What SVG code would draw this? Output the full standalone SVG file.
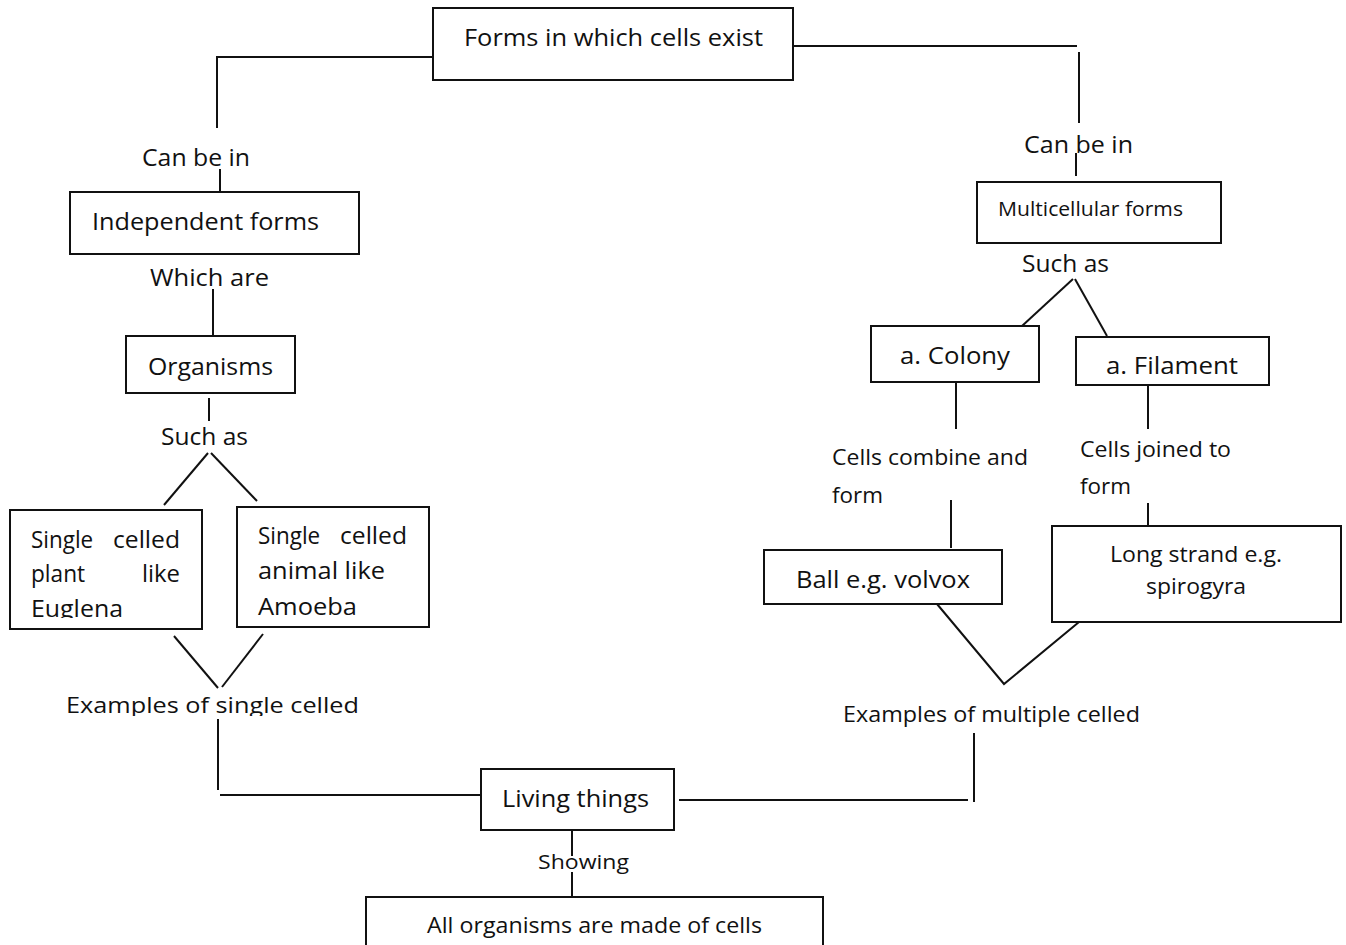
<svg xmlns="http://www.w3.org/2000/svg" width="1346" height="945" viewBox="0 0 1346 945">
<style>
  .box { fill: #ffffff; stroke: #111111; stroke-width: 2; }
  .c line, .c polyline { stroke: #111111; stroke-width: 2; fill: none; }
  text { font-family: "Open Sans", "Liberation Sans", sans-serif; fill: #111111; }
  .t24 { font-size: 24px; }
  .t22 { font-size: 22px; }
  .t20 { font-size: 20px; }
</style>
<defs>
  <clipPath id="clipEug"><rect x="0" y="500" width="230" height="118"/></clipPath>
  <clipPath id="clipEx1"><rect x="0" y="680" width="450" height="36"/></clipPath>
  <clipPath id="clipAll"><rect x="360" y="900" width="480" height="42"/></clipPath>
</defs>
<rect width="1346" height="945" fill="#ffffff"/>

<g id="connectors" class="c">
  <polyline points="433,57 217,57 217,128"/>
  <line x1="220" y1="169" x2="220" y2="192"/>
  <line x1="213" y1="289" x2="213" y2="336"/>
  <line x1="209" y1="398" x2="209" y2="421"/>
  <line x1="208" y1="453" x2="164" y2="505"/>
  <line x1="211" y1="453" x2="257" y2="501"/>
  <line x1="174" y1="636" x2="218" y2="688"/>
  <line x1="263" y1="634" x2="222" y2="687"/>
  <line x1="218" y1="719" x2="218" y2="790"/>
  <line x1="220" y1="795" x2="481" y2="795"/>
  <line x1="572" y1="830" x2="572" y2="856"/>
  <line x1="572" y1="872" x2="572" y2="897"/>
  <line x1="679" y1="800" x2="968" y2="800"/>
  <line x1="974" y1="733" x2="974" y2="802"/>
  <line x1="788" y1="46" x2="1077" y2="46"/>
  <line x1="1079" y1="52" x2="1079" y2="123"/>
  <line x1="1076" y1="153" x2="1076" y2="176"/>
  <line x1="1073" y1="279" x2="1022" y2="326"/>
  <line x1="1075" y1="279" x2="1107" y2="336"/>
  <line x1="956" y1="382" x2="956" y2="429"/>
  <line x1="1148" y1="382" x2="1148" y2="429"/>
  <line x1="951" y1="500" x2="951" y2="548"/>
  <line x1="1148" y1="503" x2="1148" y2="526"/>
  <polyline points="937,604 1004,684 1079,622"/>
</g>

<g id="label-canbein-left"><text class="t24" x="142" y="166" textLength="108" lengthAdjust="spacingAndGlyphs">Can be in</text></g>
<g id="label-whichare"><text class="t24" x="150" y="286" textLength="119" lengthAdjust="spacingAndGlyphs">Which are</text></g>
<g id="label-suchas-left"><text class="t24" x="161" y="445" textLength="87" lengthAdjust="spacingAndGlyphs">Such as</text></g>
<g id="label-examples-single"><text class="t22" x="66" y="713" textLength="293" lengthAdjust="spacingAndGlyphs" clip-path="url(#clipEx1)">Examples of single celled</text></g>
<g id="label-showing"><text class="t20" x="538" y="869" textLength="91" lengthAdjust="spacingAndGlyphs">Showing</text></g>
<g id="label-examples-multiple"><text class="t22" x="843" y="722" textLength="297" lengthAdjust="spacingAndGlyphs">Examples of multiple celled</text></g>
<g id="label-canbein-right"><text class="t24" x="1024" y="153" textLength="109" lengthAdjust="spacingAndGlyphs">Can be in</text></g>
<g id="label-suchas-right"><text class="t24" x="1022" y="272" textLength="87" lengthAdjust="spacingAndGlyphs">Such as</text></g>
<g id="label-combine">
  <text class="t22" x="832" y="465" textLength="196" lengthAdjust="spacingAndGlyphs">Cells combine and</text>
  <text class="t22" x="832" y="503" textLength="51" lengthAdjust="spacingAndGlyphs">form</text>
</g>
<g id="label-joined">
  <text class="t22" x="1080" y="457" textLength="151" lengthAdjust="spacingAndGlyphs">Cells joined to</text>
  <text class="t22" x="1080" y="494" textLength="51" lengthAdjust="spacingAndGlyphs">form</text>
</g>

<g id="node-forms">
  <rect class="box" x="433" y="8" width="360" height="72"/>
  <text class="t24" x="464" y="46" textLength="299" lengthAdjust="spacingAndGlyphs">Forms in which cells exist</text>
</g>
<g id="node-independent">
  <rect class="box" x="70" y="192" width="289" height="62"/>
  <text class="t24" x="92" y="230" textLength="227" lengthAdjust="spacingAndGlyphs">Independent forms</text>
</g>
<g id="node-organisms">
  <rect class="box" x="126" y="336" width="169" height="57"/>
  <text class="t24" x="148" y="375" textLength="125" lengthAdjust="spacingAndGlyphs">Organisms</text>
</g>
<g id="node-euglena">
  <rect class="box" x="10" y="510" width="192" height="119"/>
  <text class="t24" y="548"><tspan x="31" textLength="68" lengthAdjust="spacingAndGlyphs">Single </tspan><tspan x="113" textLength="67" lengthAdjust="spacingAndGlyphs">celled</tspan></text>
  <text class="t24" y="582"><tspan x="31" textLength="60" lengthAdjust="spacingAndGlyphs">plant </tspan><tspan x="142" textLength="38" lengthAdjust="spacingAndGlyphs">like</tspan></text>
  <text class="t24" x="31" y="617" textLength="92" lengthAdjust="spacingAndGlyphs" clip-path="url(#clipEug)">Euglena</text>
</g>
<g id="node-amoeba">
  <rect class="box" x="237" y="507" width="192" height="120"/>
  <text class="t24" y="544"><tspan x="258" textLength="68" lengthAdjust="spacingAndGlyphs">Single </tspan><tspan x="340" textLength="67" lengthAdjust="spacingAndGlyphs">celled</tspan></text>
  <text class="t24" x="258" y="579" textLength="127" lengthAdjust="spacingAndGlyphs">animal like</text>
  <text class="t24" x="258" y="615" textLength="99" lengthAdjust="spacingAndGlyphs">Amoeba</text>
</g>
<g id="node-living">
  <rect class="box" x="481" y="769" width="193" height="61"/>
  <text class="t24" x="502" y="807" textLength="147" lengthAdjust="spacingAndGlyphs">Living things</text>
</g>
<g id="node-allorganisms">
  <rect class="box" x="366" y="897" width="457" height="60"/>
  <text class="t22" x="427" y="933" textLength="335" lengthAdjust="spacingAndGlyphs" clip-path="url(#clipAll)">All organisms are made of cells</text>
</g>
<g id="node-multicellular">
  <rect class="box" x="977" y="182" width="244" height="61"/>
  <text class="t20" x="998" y="216" textLength="185" lengthAdjust="spacingAndGlyphs">Multicellular forms</text>
</g>
<g id="node-colony">
  <rect class="box" x="871" y="326" width="168" height="56"/>
  <text class="t24" x="900" y="364" textLength="110" lengthAdjust="spacingAndGlyphs">a. Colony</text>
</g>
<g id="node-filament">
  <rect class="box" x="1076" y="337" width="193" height="48"/>
  <text class="t24" x="1106" y="374" textLength="132" lengthAdjust="spacingAndGlyphs">a. Filament</text>
</g>
<g id="node-ball">
  <rect class="box" x="764" y="550" width="238" height="54"/>
  <text class="t24" x="796" y="588" textLength="174" lengthAdjust="spacingAndGlyphs">Ball e.g. volvox</text>
</g>
<g id="node-strand">
  <rect class="box" x="1052" y="526" width="289" height="96"/>
  <text class="t22" x="1110" y="562" textLength="172" lengthAdjust="spacingAndGlyphs">Long strand e.g.</text>
  <text class="t22" x="1146" y="594" textLength="100" lengthAdjust="spacingAndGlyphs">spirogyra</text>
</g>
</svg>
